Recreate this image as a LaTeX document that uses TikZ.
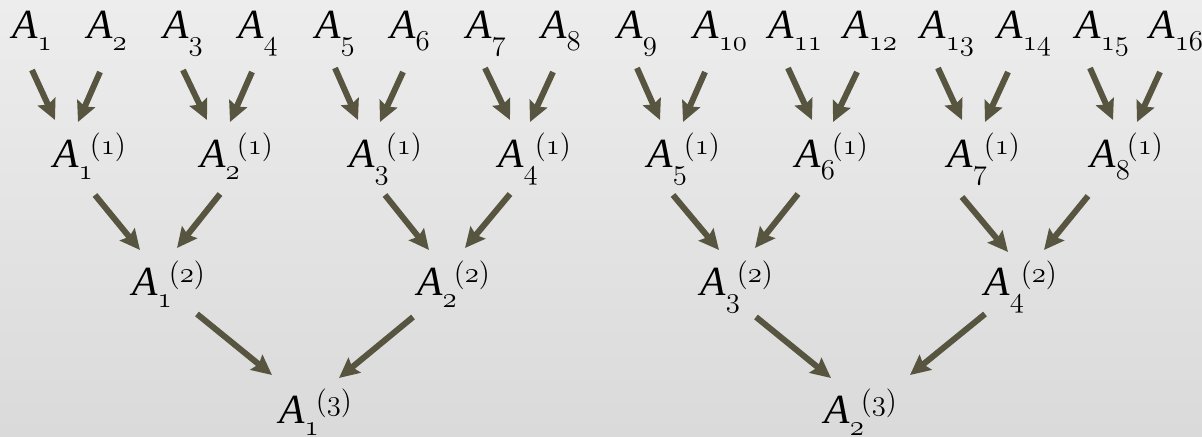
\documentclass[tikz,border=0pt]{standalone}
\usepackage{fontspec}
\setmainfont{Liberation Serif}
\usetikzlibrary{arrows.meta}
\definecolor{arrowolive}{RGB}{87,85,63}
\definecolor{bgtop}{RGB}{237,237,237}
\definecolor{bgbottom}{RGB}{218,218,218}
% lowered old-style subscript, superscript pulled in
\newcommand{\lowsub}[1]{_{\lower3pt\hbox{$\scriptstyle\mathnormal{#1}$}}}
\newcommand{\upsup}[1]{{}^{\lower1.5pt\hbox{$\scriptstyle(\mathnormal{#1})$}}}
\newcommand{\leaf}[1]{$\textit{A}\lowsub{#1}$}
\newcommand{\blk}[2]{$\textit{A}\lowsub{#1}\kern-2pt\upsup{#2}$}
\begin{document}
\begin{tikzpicture}[x=0.5pt,y=-0.5pt,
  lbl/.style={inner sep=0pt,anchor=base west,font=\fontsize{20.74}{25}\selectfont},
  flow/.style={draw=arrowolive,line width=3pt,-{Stealth[length=10pt,width=9.5pt,inset=1.5pt]}}]
\shade[top color=bgtop,bottom color=bgbottom] (0,0) rectangle (1202,436);
\useasboundingbox (0,0) rectangle (1202,436);
% level 0
\node[lbl] (a1) at (12,38) {\leaf{1}};
\node[lbl] (a2) at (87,38) {\leaf{2}};
\node[lbl] (a3) at (163,38) {\leaf{3}};
\node[lbl] (a4) at (238,38) {\leaf{4}};
\node[lbl] (a5) at (315,38) {\leaf{5}};
\node[lbl] (a6) at (390,38) {\leaf{6}};
\node[lbl] (a7) at (466,38) {\leaf{7}};
\node[lbl] (a8) at (541,38) {\leaf{8}};
\node[lbl] (a9) at (617,38) {\leaf{9}};
\node[lbl] (a10) at (693,38) {\leaf{10}};
\node[lbl] (a11) at (768,38) {\leaf{11}};
\node[lbl] (a12) at (843,38) {\leaf{12}};
\node[lbl] (a13) at (920,38) {\leaf{13}};
\node[lbl] (a14) at (997,38) {\leaf{14}};
\node[lbl] (a15) at (1075,38) {\leaf{15}};
\node[lbl] (a16) at (1149,38) {\leaf{16}};
% level 1
\node[lbl] (b1) at (53,167) {\blk{1}{1}};
\node[lbl] (b2) at (200,167) {\blk{2}{1}};
\node[lbl] (b3) at (349,167) {\blk{3}{1}};
\node[lbl] (b4) at (498,167) {\blk{4}{1}};
\node[lbl] (b5) at (647,167) {\blk{5}{1}};
\node[lbl] (b6) at (795,167) {\blk{6}{1}};
\node[lbl] (b7) at (947,167) {\blk{7}{1}};
\node[lbl] (b8) at (1090,167) {\blk{8}{1}};
% level 2
\node[lbl] (c1) at (132,295) {\blk{1}{2}};
\node[lbl] (c2) at (417,295) {\blk{2}{2}};
\node[lbl] (c3) at (700,295) {\blk{3}{2}};
\node[lbl] (c4) at (984,295) {\blk{4}{2}};
% level 3
\node[lbl] (d1) at (279,423) {\blk{1}{3}};
\node[lbl] (d2) at (824,423) {\blk{2}{3}};
% arrows 0 -> 1
\draw[flow] ([shift={(20,32)}]a1.base west) -- ([shift={(2,-47)}]b1.base west);
\draw[flow] ([shift={(13,34)}]a2.base west) -- ([shift={(25,-45)}]b1.base west);
\draw[flow] ([shift={(20,32)}]a3.base west) -- ([shift={(7,-47)}]b2.base west);
\draw[flow] ([shift={(14,34)}]a4.base west) -- ([shift={(30,-45)}]b2.base west);
\draw[flow] ([shift={(20,30)}]a5.base west) -- ([shift={(9,-47)}]b3.base west);
\draw[flow] ([shift={(13,34)}]a6.base west) -- ([shift={(31,-45)}]b3.base west);
\draw[flow] ([shift={(19,30)}]a7.base west) -- ([shift={(12,-47)}]b4.base west);
\draw[flow] ([shift={(12,34)}]a8.base west) -- ([shift={(32,-45)}]b4.base west);
\draw[flow] ([shift={(20,30)}]a9.base west) -- ([shift={(13,-47)}]b5.base west);
\draw[flow] ([shift={(12,34)}]a10.base west) -- ([shift={(36,-45)}]b5.base west);
\draw[flow] ([shift={(20,30)}]a11.base west) -- ([shift={(17,-47)}]b6.base west);
\draw[flow] ([shift={(14,34)}]a12.base west) -- ([shift={(38,-45)}]b6.base west);
\draw[flow] ([shift={(18,30)}]a13.base west) -- ([shift={(15,-47)}]b7.base west);
\draw[flow] ([shift={(11,34)}]a14.base west) -- ([shift={(38,-45)}]b7.base west);
\draw[flow] ([shift={(15,30)}]a15.base west) -- ([shift={(23,-47)}]b8.base west);
\draw[flow] ([shift={(11,34)}]a16.base west) -- ([shift={(47,-45)}]b8.base west);
% arrows 1 -> 2
\draw[flow] ([shift={(42,28)}]b1.base west) -- ([shift={(8,-45)}]c1.base west);
\draw[flow] ([shift={(20,27)}]b2.base west) -- ([shift={(45,-47)}]c1.base west);
\draw[flow] ([shift={(36,28)}]b3.base west) -- ([shift={(12,-45)}]c2.base west);
\draw[flow] ([shift={(12,27)}]b4.base west) -- ([shift={(48,-47)}]c2.base west);
\draw[flow] ([shift={(26,28)}]b5.base west) -- ([shift={(19,-45)}]c3.base west);
\draw[flow] ([shift={(3,27)}]b6.base west) -- ([shift={(55,-47)}]c3.base west);
\draw[flow] ([shift={(15,30)}]b7.base west) -- ([shift={(24,-43)}]c4.base west);
\draw[flow] ([shift={(-2,29)}]b8.base west) -- ([shift={(60,-45)}]c4.base west);
% arrows 2 -> 3
\draw[flow] ([shift={(65,19)}]c1.base west) -- ([shift={(-7,-48)}]d1.base west);
\draw[flow] ([shift={(-4,22)}]c2.base west) -- ([shift={(60,-45)}]d1.base west);
\draw[flow] ([shift={(56,22)}]c3.base west) -- ([shift={(7,-45)}]d2.base west);
\draw[flow] ([shift={(1,19)}]c4.base west) -- ([shift={(86,-48)}]d2.base west);
\end{tikzpicture}
\end{document}
